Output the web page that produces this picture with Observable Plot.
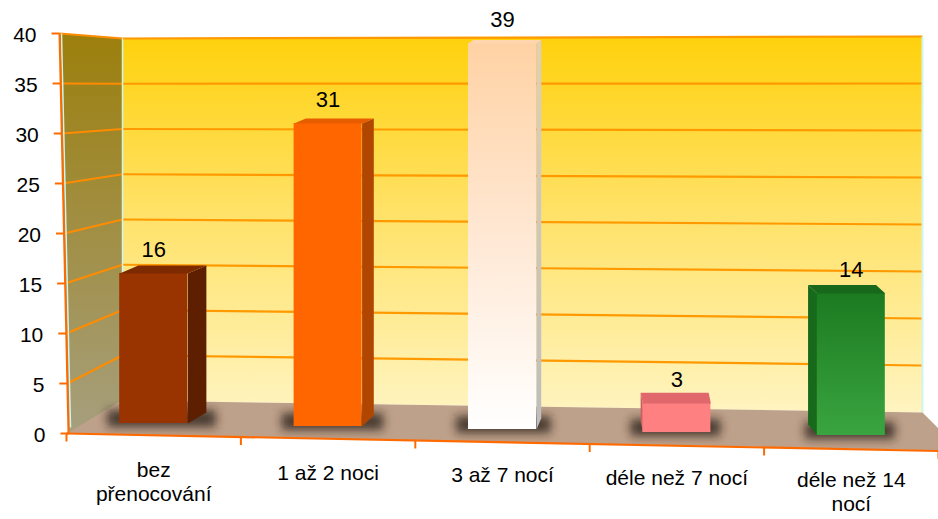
<!DOCTYPE html>
<html><head><meta charset="utf-8">
<script src="https://cdn.jsdelivr.net/npm/d3@7"></script>
<script src="https://cdn.jsdelivr.net/npm/@observablehq/plot@0.6"></script>
<style>body{margin:0;background:#fff;} #chart{width:938px;height:519px;overflow:hidden}</style>
</head><body><div id="chart"></div>
<script>
// ---- data ----
const categories = ["bez\npřenocování", "1 až 2 noci", "3 až 7 nocí", "déle než 7 nocí", "déle než 14\nnocí"];
const values = [16, 31, 39, 3, 14];
const yTicks = [0, 5, 10, 15, 20, 25, 30, 35, 40];

// ---- styles ----
const frontFill = ["#993300", "#FF6600", "url(#gPeach)", "#FF8080", "url(#gGreen)"];
const sideFill  = ["#5E1F00", "#B04600", "url(#gSide3)", "#C86060", "#176A1B"];
const topFill   = ["#7E2A00", "#E85C00", "#FFD6AE", "#E0676B", "#17681B"];
const font = "Liberation Sans, Arial, sans-serif";

// ---- frame geometry (pixel space -> scale units) ----
const W = 938, H = 519, mL = 66, mR = 0, mT = 33, mB = 86;
const kx = (W - mL - mR) / 5, ky = (H - mT - mB) / 40;
const px2x = p => (p - mL) / kx;
const px2y = p => (H - mB - p) / ky;
const frontXpx = v => 68 - 9 * v / 40;          // slanted value axis
const backL = 122, backR = 922;
const backYL = v => 400 - 9.05 * v;
const backYR = v => 412 - 9.4 * v;

// polygons
const poly = (pts, fill, extra = {}) => Plot.line(pts, {x: "x", y: "y", fill, stroke: "none", curve: "linear-closed", ...extra});
const P = (xp, yp) => ({x: px2x(xp), y: px2y(yp)});

const leftWall = [P(frontXpx(40), H - mB - 40 * ky), P(backL, backYL(40)), P(backL, backYL(0)), P(frontXpx(0), H - mB)];
const backWall = [P(backL, backYL(40)), P(backR, backYR(40)), P(backR, backYR(0)), P(backL, backYL(0))];
const floor = [P(mL, H - mB), P(backL, backYL(0)), P(backR, backYR(0)), P(W, 428), P(W, 450)];

const gridV = yTicks.filter(v => v > 0);

// bars
const bars = values.map((v, i) => {
  const c = i + 0.5;
  const cpx = mL + c * kx;
  const half = 34 / kx;
  const base = 1.0 - 0.3 * i;
  const sdx = (620 - cpx) * 0.04 / kx;
  const dyT = (11.26 - 0.2 * v) / 10, dyB = (11.26 - 0.2 * base) / 10;
  return {i, v, c, x1: c - half, x2: c + half, base, sdx, dyT, dyB};
});

const barMarks = bars.flatMap(b => {
  const edge = b.sdx > 0 ? b.x2 : b.x1;
  const side = [{x: edge, y: b.base}, {x: edge, y: b.v}, {x: edge + b.sdx, y: b.v + b.dyT}, {x: edge + b.sdx, y: b.base + b.dyB}];
  const top = [{x: b.x1, y: b.v}, {x: b.x2, y: b.v}, {x: b.x2 + b.sdx, y: b.v + b.dyT}, {x: b.x1 + b.sdx, y: b.v + b.dyT}];
  return [
    poly(side, sideFill[b.i]),
    Plot.rect([b], {x1: "x1", x2: "x2", y1: "base", y2: "v", fill: frontFill[b.i]}),
    poly(top, topFill[b.i])
  ];
});

const plot = Plot.plot({
  width: W, height: H,
  marginLeft: mL, marginRight: mR, marginTop: mT, marginBottom: mB,
  x: {domain: [0, 5], axis: null},
  y: {domain: [0, 40], axis: null},
  style: {fontFamily: font, background: "transparent", overflow: "visible", color: "#000"},
  marks: [
    poly(leftWall, "url(#gLeft)"),
    poly(backWall, "url(#gWall)"),
    // grid on left wall
    Plot.link(gridV, {x1: v => px2x(frontXpx(v)), y1: v => v, x2: () => px2x(backL), y2: v => px2y(backYL(v)), stroke: "#FF8C00", strokeWidth: 2}),
    // grid on back wall
    Plot.link(gridV, {x1: () => px2x(backL), y1: v => px2y(backYL(v)), x2: () => px2x(backR), y2: v => px2y(backYR(v)), stroke: "#FF9900", strokeWidth: 2.2}),
    // wall edges
    Plot.link([0], {x1: () => px2x(backL), y1: () => px2y(backYL(40)), x2: () => px2x(backL), y2: () => px2y(backYL(0)), stroke: "#CFF5EE", strokeWidth: 1.5}),
    Plot.link([0], {x1: () => px2x(backR), y1: () => px2y(backYR(40)), x2: () => px2x(backR), y2: () => px2y(backYR(0)), stroke: "#CFF5EE", strokeWidth: 2}),
    Plot.link([0], {x1: () => px2x(frontXpx(40) + 2), y1: () => 40, x2: () => px2x(frontXpx(0) + 2), y2: () => 0.6, stroke: "#CFF5EE", strokeWidth: 1.5}),
    poly(floor, "#BEA18A"),
    // shadows
    Plot.rect(bars, {x1: d => d.x1 - 12 / kx, x2: d => d.x2 + Math.max(d.sdx, 0) + 10 / kx, y1: d => d.base - 0.4, y2: d => d.base + 1.3, fill: "#2A1E16", fillOpacity: 0.8, ariaDescription: "shadow"}),
    ...barMarks,
    // value labels
    Plot.text(bars, {x: "c", y: "v", text: d => String(d.v), lineAnchor: "bottom", dy: -17, fontSize: 22, fill: "#000"}),
    // value axis
    Plot.link([0], {x1: () => px2x(frontXpx(0)), y1: () => 0, x2: () => px2x(frontXpx(40)), y2: () => 40, stroke: "#FF6A00", strokeWidth: 2}),
    Plot.link(yTicks, {x1: v => px2x(frontXpx(v) - 8), x2: v => px2x(frontXpx(v)), y1: v => v, y2: v => v, stroke: "#FF6A00", strokeWidth: 2}),
    Plot.text(yTicks, {x: v => px2x(frontXpx(v)), y: v => v, text: v => String(v), textAnchor: "end", dx: -23, dy: 2, fontSize: 21, fill: "#000"}),
    // category axis
    Plot.link([0], {x1: () => 0, y1: () => 0, x2: () => 5, y2: () => -1.75, stroke: "#FF6A00", strokeWidth: 2.2}),
    Plot.link(d3.range(categories.length + 1), {x1: b => b, x2: b => b, y1: b => -0.35 * b, y2: b => -0.35 * b - 0.8, stroke: "#FF6A00", strokeWidth: 2}),
    Plot.text(categories, {x: (d, i) => i + 0.5, y: (d, i) => -2.7 - 0.25 * i, text: d => d, lineAnchor: "top", lineHeight: 1.12, fontSize: 21, fill: "#000"})
  ]
});

const svg = d3.select(plot);
const defs = svg.insert("defs", ":first-child");
function grad(id, stops, horiz) {
  const g = defs.append("linearGradient").attr("id", id).attr("x1", 0).attr("y1", 0).attr("x2", horiz ? 1 : 0).attr("y2", horiz ? 0 : 1);
  stops.forEach(([o, c]) => g.append("stop").attr("offset", o).attr("stop-color", c));
}
grad("gWall", [[0, "#FFD10C"], [0.45, "#FFE164"], [1, "#FFF4C0"]]);
grad("gLeft", [[0, "#9C7F0C"], [1, "#A69F7E"]]);
grad("gPeach", [[0, "#FFD2A4"], [0.5, "#FFE8D4"], [1, "#FFFFFF"]]);
grad("gGreen", [[0, "#1C7A20"], [1, "#3AA540"]]);
grad("gSide3", [[0, "#E0CFC0"], [1, "#BDBDBD"]]);
defs.append("filter").attr("id", "fBlur").attr("x", "-50%").attr("y", "-100%").attr("width", "200%").attr("height", "300%")
  .append("feGaussianBlur").attr("stdDeviation", 5);
svg.selectAll('g[aria-description="shadow"]').attr("filter", "url(#fBlur)");

document.getElementById("chart").appendChild(plot);
</script>
</body></html>
